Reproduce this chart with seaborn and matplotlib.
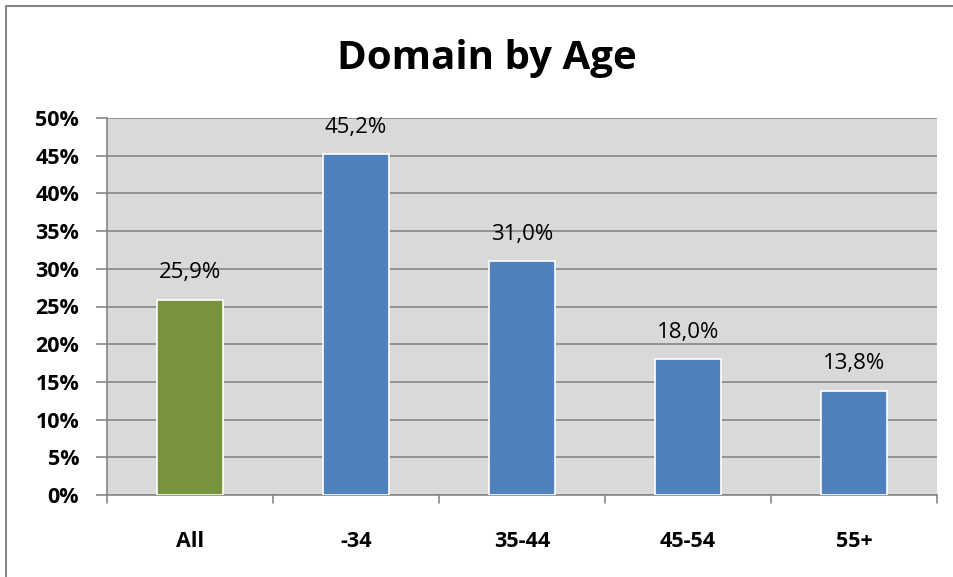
import matplotlib
matplotlib.use("Agg")
import matplotlib.pyplot as plt
import seaborn as sns
import pandas as pd
from matplotlib.lines import Line2D

categories = ["All", "-34", "35-44", "45-54", "55+"]
values = [25.9, 45.2, 31.0, 18.0, 13.8]
labels = ["25,9%", "45,2%", "31,0%", "18,0%", "13,8%"]
yticks = [0, 5, 10, 15, 20, 25, 30, 35, 40, 45, 50]
colors = ["#77933C", "#4F81BD", "#4F81BD", "#4F81BD", "#4F81BD"]

sns.set_style("white")
plt.rcParams["font.family"] = ["Open Sans", "DejaVu Sans"]
plt.rcParams["text.color"] = "black"
plt.rcParams["xtick.color"] = "black"
plt.rcParams["ytick.color"] = "black"

df = pd.DataFrame({"cat": categories, "val": values})

fig = plt.figure(figsize=(9.54, 5.77), dpi=100)
ax = fig.add_axes([107/954, 1-495/577, (937-107)/954, (495-118)/577])
ax.set_facecolor("#D9D9D9")

sns.barplot(data=df, x="cat", y="val", hue="cat", palette=colors, legend=False,
            width=0.4, ax=ax, edgecolor="white", linewidth=1.2, zorder=3, saturation=1)

ax.set_ylim(0, 50)
ax.set_xlim(-0.5, 4.5)
ax.set_yticks(yticks)
ax.set_yticklabels([f"{t}%" for t in yticks], fontsize=15.5, fontweight="bold")
ax.set_xticks(range(len(categories)))
ax.set_xticklabels(categories, fontsize=15.5, fontweight="bold")
ax.tick_params(axis="x", length=0, pad=26, labelcolor="black")
ax.tick_params(axis="y", length=8, color="#868686", width=1.2, pad=12, left=True, labelcolor="black")
ax.yaxis.grid(True, color="#868686", linewidth=1.2, zorder=1)
ax.set_axisbelow(True)
ax.set_xlabel("")
ax.set_ylabel("")
for s in ["top", "right"]:
    ax.spines[s].set_visible(False)
for s in ["left", "bottom"]:
    ax.spines[s].set_color("#868686")
    ax.spines[s].set_linewidth(1.2)

# category boundary ticks below x axis
for b in [-0.5, 0.5, 1.5, 2.5, 3.5, 4.5]:
    ax.plot([b, b], [0, -1.1], color="#868686", linewidth=1.2, clip_on=False, zorder=4)

for i, (v, lab) in enumerate(zip(values, labels)):
    ax.text(i, v + 3.6, lab, ha="center", va="center", fontsize=16, color="black", zorder=5)

fig.text(487/954, 1-58/577, "Domain by Age", ha="center", va="center",
         fontsize=29, fontweight="bold", color="black")

# outer chart border (top and left edges)
fig.add_artist(Line2D([6/954, 1], [1-6/577, 1-6/577], transform=fig.transFigure,
                      color="#868686", linewidth=1.5))
fig.add_artist(Line2D([6/954, 6/954], [0, 1-6/577], transform=fig.transFigure,
                      color="#868686", linewidth=1.5))

fig.savefig("out.png", dpi=100)
